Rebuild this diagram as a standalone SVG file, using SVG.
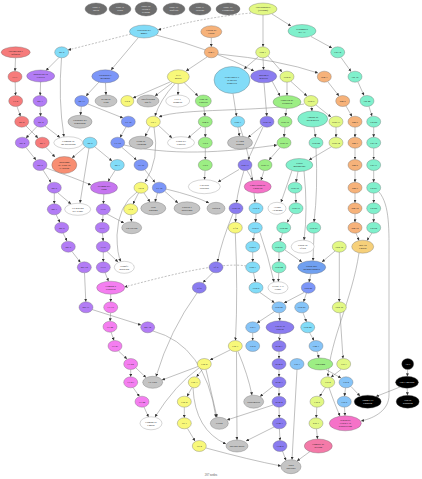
<svg xmlns="http://www.w3.org/2000/svg" width="422" height="479" viewBox="0 0 422 479">
<defs>
<marker id="ah" markerWidth="3" markerHeight="3" refX="3" refY="1.5" orient="auto" markerUnits="userSpaceOnUse"><path d="M0,0L3,1.5L0,3z" fill="#333"/></marker>
<style>
.e{fill:none;stroke:#808080;stroke-width:.5;marker-end:url(#ah)}
.d{stroke-dasharray:2,1.5}
ellipse{stroke:#666;stroke-width:.35}
text{font-family:"Liberation Serif",serif;font-size:2.7px;text-anchor:middle;fill:#222}
.dk ellipse{fill:#6e6e6e}.dk text{fill:#eee}
.cy ellipse{fill:#82dcf8}.sa ellipse{fill:#f67b7b}.pu ellipse{fill:#b27cf5}.bl ellipse{fill:#7c96f8}
.sl ellipse{fill:#8a7cf0}.ye ellipse{fill:#f8f87a}.gn ellipse{fill:#9cee84}.aq ellipse{fill:#80f0cc}
.or ellipse{fill:#f6b27a}.yg ellipse{fill:#e2f884}.gy ellipse{fill:#c4c4c4}.wh ellipse{fill:#fff;stroke:#888}
.vi ellipse{fill:#f47ef0}.mo ellipse{fill:#c676f0}.hp ellipse{fill:#f572c8}.co ellipse{fill:#f88e72}
.ls ellipse{fill:#86c4f8}.gd ellipse{fill:#f6d07a}.bk ellipse{fill:#000}.bk text{fill:#fff}
.sb ellipse{fill:#70a0f0}.rs ellipse{fill:#f47aa8}
</style>
</defs>
<rect width="422" height="479" fill="#fff"/>
<g id="edges">
<path class="e d" d="M251,13 Q200,18 158,30"/>
<path class="e" d="M263,15 L263,46.8"/>
<path class="e" d="M272,14 L291,26"/>
<path class="e d" d="M131,34 L68,50"/>
<path class="e" d="M138,38 L111,70"/>
<path class="e" d="M156,35 Q215,50 254,71"/>
<path class="e" d="M211.3,37.7 L211.3,46.8"/>
<path class="e" d="M207,57 L186,71"/>
<path class="e" d="M218,54 Q280,60 318,73"/>
<path class="e" d="M258,57 L244,69"/>
<path class="e" d="M263,57.8 L263.6,69.8"/>
<path class="e" d="M268,56 L282,72"/>
<path class="e" d="M311,36.5 L332,48"/>
<path class="e" d="M341,57.5 L351,71.5"/>
<path class="e" d="M358,82 L364,95.5"/>
<path class="e" d="M369,106.5 L372,116.2"/>
<path class="e" d="M373.7,127.2 L373.7,137.2"/>
<path class="e" d="M373.7,148.2 L373.7,159.5"/>
<path class="e" d="M373.7,170.5 L373.7,182.2"/>
<path class="e" d="M373.7,193.2 L373.7,202.8"/>
<path class="e" d="M373.7,213.8 L373.7,222.2"/>
<path class="e" d="M372,233 L367,240.5"/>
<path class="e" d="M328,82 L339,96"/>
<path class="e" d="M346,106 L352,116.5"/>
<path class="e" d="M355,127.2 L355,137.2"/>
<path class="e" d="M355,148.2 L355,159.5"/>
<path class="e" d="M355,170.5 L355,182.2"/>
<path class="e" d="M355,193.2 L355,202.8"/>
<path class="e" d="M355,213.8 L355,222.2"/>
<path class="e" d="M356,233.2 L359,240.5"/>
<path class="e" d="M379,192 C390,205 389,230 389,260 L389,395 C389,410 375,418 361,421"/>
<path class="e" d="M291,81.5 L307,96"/>
<path class="e" d="M287,82.2 L287,95.5"/>
<path class="e" d="M311.5,106.5 L312,111"/>
<path class="e" d="M316,105 L331,117"/>
<path class="e" d="M336,127.2 L336,137.2"/>
<path class="e" d="M331,147 L309,160"/>
<path class="e" d="M314,127 L315.5,137.2"/>
<path class="e" d="M316,148.2 Q318,190 314,222"/>
<path class="e" d="M286.5,108.5 L285.5,116.2"/>
<path class="e" d="M285,127.2 L284,137.2"/>
<path class="e" d="M280,147.5 L269,160"/>
<path class="e" d="M298,171.5 L296,182.2"/>
<path class="e" d="M295.5,193.2 L296,202.8"/>
<path class="e" d="M293,213.5 L287,222.5"/>
<path class="e" d="M304,171 Q308,210 304,240.2"/>
<path class="e" d="M292,170.5 L281,202.3"/>
<path class="e" d="M15.5,57.8 L15,71.2"/>
<path class="e" d="M15.2,82.2 L15.5,95.5"/>
<path class="e" d="M17,106.5 L20.5,116.2"/>
<path class="e" d="M26,126 L38,138"/>
<path class="e" d="M46,147.5 L55,157"/>
<path class="e" d="M40.6,82 L40.2,95.5"/>
<path class="e" d="M40.2,106.5 L40.6,116.2"/>
<path class="e" d="M37,126.5 L26,138"/>
<path class="e" d="M26,147.5 L36,160"/>
<path class="e" d="M45,126 L60,137.5"/>
<path class="e" d="M59,57.5 L46,70.5"/>
<path class="e" d="M61.5,57.8 Q58,100 64,136.7"/>
<path class="e" d="M99,82 L86,96"/>
<path class="e" d="M105.5,82.8 L106,95"/>
<path class="e" d="M81.3,106.5 L80.5,115.2"/>
<path class="e" d="M88,104 L123,118"/>
<path class="e" d="M170,82 L133,98"/>
<path class="e" d="M172,83 L155,96"/>
<path class="e" d="M178.2,83.7 L178,95"/>
<path class="e" d="M184,82.5 L198,96"/>
<path class="e" d="M126,127 L120,137.5"/>
<path class="e" d="M122,147.5 L136.5,160"/>
<path class="e" d="M85,147 L72,158"/>
<path class="e" d="M95,147 L112,161"/>
<path class="e" d="M89,148 L80,203"/>
<path class="e" d="M43,170 L51,182.5"/>
<path class="e" d="M46,168 Q75,178 91,185"/>
<path class="e" d="M58,193 L71,204"/>
<path class="e" d="M54.3,193.2 L54.3,203.8"/>
<path class="e" d="M56,214.5 L60,222.5"/>
<path class="e" d="M63,233 L67,241"/>
<path class="e" d="M72,251.5 L80.5,262.5"/>
<path class="e" d="M84.5,272.8 L85.8,301.8"/>
<path class="e" d="M92,309.5 L141,325"/>
<path class="e" d="M115,170.5 L108,181.5"/>
<path class="e" d="M103.8,194.2 L103.4,203.8"/>
<path class="e" d="M138.5,193 L133,204"/>
<path class="e" d="M131,214.8 L131.5,221.7"/>
<path class="e" d="M103,214.8 L102.5,222.2"/>
<path class="e" d="M107,214 L124,223"/>
<path class="e" d="M137,192 Q118,205 117,235 Q117,255 121,261.5"/>
<path class="e" d="M102.5,233.2 L103.2,241.2"/>
<path class="e" d="M103.3,252.2 L103.3,261.8"/>
<path class="e" d="M107,251.5 L118,262"/>
<path class="e" d="M105,272.5 L108.5,281.3"/>
<path class="e" d="M110.7,294.2 L110.7,301.8"/>
<path class="e" d="M110.6,312.8 L110.1,321.2"/>
<path class="e" d="M111,332 L114,340.5"/>
<path class="e" d="M118.5,351 L127,359"/>
<path class="e" d="M130.7,369.5 L130.7,376.8"/>
<path class="e" d="M133,387.5 L139.5,396.5"/>
<path class="e" d="M136,368 L146,377.5"/>
<path class="e" d="M144,407 L148.5,417"/>
<path class="e d" d="M246,266 C225,262 180,272 124.5,287"/>
<path class="e" d="M175,83.5 Q160,100 155,116"/>
<path class="e" d="M150,127 L145,136.5"/>
<path class="e" d="M154,127 Q160,160 145,182"/>
<path class="e" d="M203.8,107 L205,116.2"/>
<path class="e" d="M205.3,127.2 L205.3,137.2"/>
<path class="e" d="M205.3,148.2 L205.3,159.5"/>
<path class="e" d="M205,170.5 L204.5,179.7"/>
<path class="e" d="M201,127 L188,138"/>
<path class="e" d="M158,125 L172,138"/>
<path class="e" d="M238,127.2 L239.5,136.2"/>
<path class="e" d="M262,126 L248,137.5"/>
<path class="e" d="M233,93.5 L236.5,116.2"/>
<path class="e" d="M264,82.8 L266.8,116.2"/>
<path class="e" d="M272,81 L280,96"/>
<path class="e" d="M263,127 L248,159.8"/>
<path class="e" d="M247,170.5 L253,180.5"/>
<path class="e" d="M264,170.5 L261,180.3"/>
<path class="e" d="M244,170.5 Q238,190 236.5,202.8"/>
<path class="e" d="M239,169.5 L218,182"/>
<path class="e" d="M145,170 L155,182.5"/>
<path class="e" d="M157.5,193 L155,202"/>
<path class="e" d="M144,193 L150,202"/>
<path class="e" d="M165,191.5 L178,203"/>
<path class="e" d="M166,189 Q195,196 209,203"/>
<path class="e" d="M236,213.8 L235.5,222.2"/>
<path class="e" d="M256,213.8 L255.5,222.2"/>
<path class="e" d="M240,127 Q252,160 255,202.5"/>
<path class="e" d="M254.5,233.2 L253,241.2"/>
<path class="e" d="M252.7,252.2 L252.7,261.8"/>
<path class="e" d="M253.5,272.8 L255.5,282.2"/>
<path class="e" d="M235.3,233.2 Q238,290 235.5,340.5"/>
<path class="e" d="M213,272.5 L203,282.5"/>
<path class="e" d="M233,213.5 Q222,240 217.5,261.8"/>
<path class="e" d="M197,293 Q170,330 156,376.5"/>
<path class="e" d="M153,331 Q205,345 216,417.3"/>
<path class="e" d="M279,252.2 L279,261.8"/>
<path class="e" d="M278.8,272.8 L278.3,281.7"/>
<path class="e" d="M285,250 L302,262"/>
<path class="e" d="M282.5,233.2 L280,241.2"/>
<path class="e" d="M314,233.2 L313,260.8"/>
<path class="e" d="M335,251 L322,262"/>
<path class="e" d="M339.3,252.2 L339.3,301.8"/>
<path class="e" d="M311,273.8 L309,282.2"/>
<path class="e" d="M304,292.5 L284,303"/>
<path class="e" d="M306.5,293 L303.5,301.8"/>
<path class="e" d="M274.5,311.5 L257,323"/>
<path class="e" d="M279.2,312.8 L279.8,320.8"/>
<path class="e" d="M303,312.8 L306.5,321.8"/>
<path class="e" d="M309.5,332.5 L314,340.6"/>
<path class="e" d="M252.7,332.8 L252.7,340.5"/>
<path class="e" d="M280,333.8 L279.3,340.5"/>
<path class="e" d="M260,292.5 L274.5,302.8"/>
<path class="e" d="M260,232.5 Q268,255 274,282"/>
<path class="e" d="M317,351.5 L319,358"/>
<path class="e" d="M340,312.8 L343,358.5"/>
<path class="e" d="M359,253 C352,300 330,340 328,376.5"/>
<path class="e" d="M341,369.5 L331,377.2"/>
<path class="e" d="M326,369.5 L341,378"/>
<path class="e" d="M345.5,387.8 L344.5,396.2"/>
<path class="e" d="M351,386.5 L360,396"/>
<path class="e" d="M407.7,369.5 L407.3,376.3"/>
<path class="e" d="M407.2,388.3 L407.5,395.2"/>
<path class="e" d="M400,387 L376,396.5"/>
<path class="e" d="M325.5,387.5 L319.5,396.5"/>
<path class="e" d="M329,387.7 Q335,405 340,416"/>
<path class="e" d="M344.5,407.2 L345,415.8"/>
<path class="e" d="M316.8,407.2 L316.2,417.8"/>
<path class="e" d="M316.5,428.8 L317.5,439"/>
<path class="e" d="M310,451.5 L297,461"/>
<path class="e" d="M297,369.5 L292,459.7"/>
<path class="e" d="M282.5,451 L286,460.5"/>
<path class="e" d="M279,351.5 L279,358.5"/>
<path class="e" d="M279,369.5 L279,376.8"/>
<path class="e" d="M279,387.8 L279,396.2"/>
<path class="e" d="M279,407.2 L279.3,417.8"/>
<path class="e" d="M279.4,428.8 L280,440.5"/>
<path class="e" d="M273,405 L227,420"/>
<path class="e" d="M273.5,386 L260,396.5"/>
<path class="e" d="M274,427 L246,441"/>
<path class="e" d="M230,350 L210,360"/>
<path class="e" d="M238,351.5 Q248,375 252,395.2"/>
<path class="e" d="M202.3,369.5 L196.5,376.8"/>
<path class="e" d="M198,366.5 L162,380"/>
<path class="e" d="M206,369.5 L217,417.3"/>
<path class="e" d="M192,387.5 L187,396.5"/>
<path class="e" d="M193,388 Q195,430 226,444"/>
<path class="e" d="M184.3,407.2 L184.3,417.8"/>
<path class="e" d="M187.5,428.5 L195,441"/>
<path class="e" d="M206,448 Q250,460 281,466"/>
<path class="e" d="M236.5,351.5 L237,440"/>
<path class="e" d="M199,368 Q175,385 155,417"/>
<path class="e" d="M304,104 C260,112 180,108 159,117"/>
<path class="e" d="M124,145 C180,158 240,150 277,145"/>
</g>
<g id="n1" class="dk"><ellipse cx="96" cy="9" rx="11" ry="6"/><text x="96" y="8.4">Parte I</text><text x="96" y="11.4">inicio</text></g>
<g id="n2" class="dk"><ellipse cx="120" cy="9" rx="11" ry="6"/><text x="120" y="8.4">Parte II</text><text x="120" y="11.4">reino</text></g>
<g id="n3" class="dk"><ellipse cx="146" cy="9" rx="11" ry="7"/><text x="146" y="7">Parte III</text><text x="146" y="10">exilio y</text><text x="146" y="13">retorno</text></g>
<g id="n4" class="dk"><ellipse cx="174" cy="9" rx="11" ry="6"/><text x="174" y="8.4">Parte IV</text><text x="174" y="11.4">profetas</text></g>
<g id="n5" class="dk"><ellipse cx="200" cy="9" rx="11" ry="6"/><text x="200" y="8.4">Parte V</text><text x="200" y="11.4">escritos</text></g>
<g id="n6" class="dk"><ellipse cx="228" cy="9" rx="12" ry="6"/><text x="228" y="8.4">Parte VI</text><text x="228" y="11.4">evangelios</text></g>
<g id="n7" class="yg"><ellipse cx="263" cy="9" rx="14" ry="6"/><text x="263" y="8.4">Los apóstoles</text><text x="263" y="11.4">(Hechos)</text></g>
<g id="c1" class="cy"><ellipse cx="144" cy="31.5" rx="14.5" ry="6.5"/><text x="144" y="30.9">Discurso del</text><text x="144" y="33.9">monte</text></g>
<g id="o1" class="or"><ellipse cx="211.3" cy="31.7" rx="10.5" ry="6"/><text x="211.3" y="31.1">Cartas de</text><text x="211.3" y="34.1">Pablo</text></g>
<g id="a1" class="aq"><ellipse cx="302" cy="31" rx="14" ry="6.5"/><text x="302" y="30.4">Personajes</text><text x="302" y="33.4">del AT</text></g>
<g id="s1" class="sa"><ellipse cx="15.7" cy="52.3" rx="14.5" ry="5.5"/><text x="15.7" y="51.7">Nacimiento y</text><text x="15.7" y="54.7">infancia</text></g>
<g id="c2" class="cy"><ellipse cx="61.7" cy="52.3" rx="7" ry="5.5"/><text x="61.7" y="53.3">Mt 5</text></g>
<g id="o2" class="or"><ellipse cx="211.3" cy="52.3" rx="7" ry="5.5"/><text x="211.3" y="53.3">Rm 1</text></g>
<g id="yg2" class="yg"><ellipse cx="262.7" cy="52.3" rx="7" ry="5.5"/><text x="262.7" y="53.3">Hch 1</text></g>
<g id="a2" class="aq"><ellipse cx="337.7" cy="52.3" rx="7" ry="5.5"/><text x="337.7" y="53.3">Gn 12</text></g>
<g id="s2" class="sa"><ellipse cx="15" cy="76.7" rx="7" ry="5.5"/><text x="15" y="77.7">Lc 1</text></g>
<g id="p1" class="pu"><ellipse cx="40.7" cy="76" rx="14" ry="6"/><text x="40.7" y="75.4">Ministerio en</text><text x="40.7" y="78.4">Galilea</text></g>
<g id="b1" class="bl"><ellipse cx="105.3" cy="76.3" rx="13.5" ry="6.5"/><text x="105.3" y="75.7">Parábolas y</text><text x="105.3" y="78.7">milagros</text></g>
<g id="y1" class="ye"><ellipse cx="178.3" cy="76.7" rx="11" ry="7"/><text x="178.3" y="76.1">Fe y</text><text x="178.3" y="79.1">gracia</text></g>
<g id="c3" class="cy"><ellipse cx="232" cy="80" rx="18" ry="13.5"/><text x="232" y="77.9">Pentecostés y</text><text x="232" y="80.9">la iglesia</text><text x="232" y="83.9">primitiva</text></g>
<g id="sl1" class="sl"><ellipse cx="263.7" cy="76.3" rx="13" ry="6.5"/><text x="263.7" y="75.7">Misión a</text><text x="263.7" y="78.7">gentiles</text></g>
<g id="yg3" class="yg"><ellipse cx="287" cy="76.7" rx="7" ry="5.5"/><text x="287" y="77.7">Hch 2</text></g>
<g id="o3" class="or"><ellipse cx="324.3" cy="76.7" rx="7" ry="5.5"/><text x="324.3" y="77.7">Rm 3</text></g>
<g id="a3" class="aq"><ellipse cx="355" cy="76.7" rx="7" ry="5.5"/><text x="355" y="77.7">Gn 15</text></g>
<g id="s3" class="sa"><ellipse cx="15.7" cy="101" rx="7" ry="5.5"/><text x="15.7" y="102">Lc 2</text></g>
<g id="p2" class="pu"><ellipse cx="40" cy="101" rx="7" ry="5.5"/><text x="40" y="102">Mc 1</text></g>
<g id="b2" class="bl"><ellipse cx="81.7" cy="101" rx="7" ry="5.5"/><text x="81.7" y="102">Mt 13</text></g>
<g id="g1" class="gy"><ellipse cx="106" cy="101" rx="11" ry="6"/><text x="106" y="100.4">Reino de</text><text x="106" y="103.4">Dios</text></g>
<g id="y2" class="ye"><ellipse cx="127.3" cy="101" rx="6.5" ry="5.5"/><text x="127.3" y="102">Ga 2</text></g>
<g id="g2" class="gy"><ellipse cx="148" cy="101" rx="11" ry="6"/><text x="148" y="100.4">Justificación</text><text x="148" y="103.4">por fe</text></g>
<g id="w1" class="wh"><ellipse cx="177.7" cy="101" rx="12" ry="6"/><text x="177.7" y="100.4">Ley y</text><text x="177.7" y="103.4">promesa</text></g>
<g id="gr1" class="gn"><ellipse cx="203.3" cy="101" rx="8" ry="6"/><text x="203.3" y="100.4">Vida en</text><text x="203.3" y="103.4">Espíritu</text></g>
<g id="gr2" class="gn"><ellipse cx="287" cy="102" rx="14" ry="6.5"/><text x="287" y="101.4">Concilio de</text><text x="287" y="104.4">Jerusalén</text></g>
<g id="yg4" class="yg"><ellipse cx="311" cy="101" rx="7" ry="5.5"/><text x="311" y="102">Hch 9</text></g>
<g id="o4" class="or"><ellipse cx="342.7" cy="101" rx="7" ry="5.5"/><text x="342.7" y="102">Rm 5</text></g>
<g id="a4" class="aq"><ellipse cx="367" cy="101" rx="7" ry="5.5"/><text x="367" y="102">Gn 22</text></g>
<g id="s4" class="sa"><ellipse cx="21.7" cy="121.7" rx="7" ry="5.5"/><text x="21.7" y="122.7">Mt 2</text></g>
<g id="p3" class="pu"><ellipse cx="40.7" cy="121.7" rx="7" ry="5.5"/><text x="40.7" y="122.7">Mc 2</text></g>
<g id="g3" class="gy"><ellipse cx="80" cy="121.7" rx="12" ry="6.5"/><text x="80" y="121.1">Parábola del</text><text x="80" y="124.1">sembrador</text></g>
<g id="b3" class="bl"><ellipse cx="128.3" cy="121.7" rx="7" ry="5.5"/><text x="128.3" y="122.7">Lc 15</text></g>
<g id="y3" class="ye"><ellipse cx="153.3" cy="121.7" rx="7" ry="5.5"/><text x="153.3" y="122.7">Ga 3</text></g>
<g id="gr3" class="gn"><ellipse cx="205.3" cy="121.7" rx="7" ry="5.5"/><text x="205.3" y="122.7">Rm 8</text></g>
<g id="c4" class="cy"><ellipse cx="237.7" cy="121.7" rx="7" ry="5.5"/><text x="237.7" y="122.7">Hch 3</text></g>
<g id="sl2" class="sl"><ellipse cx="267" cy="121.7" rx="7" ry="5.5"/><text x="267" y="122.7">Hch 10</text></g>
<g id="gr4" class="gn"><ellipse cx="285" cy="121.7" rx="7" ry="5.5"/><text x="285" y="122.7">Hch 15</text></g>
<g id="a5" class="aq"><ellipse cx="312.7" cy="119" rx="15" ry="8"/><text x="312.7" y="118.4">Apóstol de</text><text x="312.7" y="121.4">los gentiles</text></g>
<g id="yg5" class="yg"><ellipse cx="336" cy="121.7" rx="7" ry="5.5"/><text x="336" y="122.7">Hch 13</text></g>
<g id="o5" class="or"><ellipse cx="355" cy="121.7" rx="7" ry="5.5"/><text x="355" y="122.7">Rm 6</text></g>
<g id="a6" class="aq"><ellipse cx="373.7" cy="121.7" rx="7" ry="5.5"/><text x="373.7" y="122.7">Gn 28</text></g>
<g id="p4" class="pu"><ellipse cx="22.3" cy="142.7" rx="7" ry="5.5"/><text x="22.3" y="143.7">Mc 4</text></g>
<g id="s5" class="sa"><ellipse cx="42.3" cy="142.7" rx="7" ry="5.5"/><text x="42.3" y="143.7">Mt 3</text></g>
<g id="w2" class="wh"><ellipse cx="68.3" cy="142.7" rx="14.5" ry="6"/><text x="68.3" y="142.1">Llamado de</text><text x="68.3" y="145.1">los discípulos</text></g>
<g id="c5" class="cy"><ellipse cx="90" cy="142.7" rx="7" ry="5.5"/><text x="90" y="143.7">Mt 6</text></g>
<g id="b4" class="bl"><ellipse cx="117.7" cy="142.7" rx="7" ry="5.5"/><text x="117.7" y="143.7">Lc 10</text></g>
<g id="g4" class="gy"><ellipse cx="141" cy="142.7" rx="12" ry="6.5"/><text x="141" y="142.1">Hijos de</text><text x="141" y="145.1">Abraham</text></g>
<g id="w3" class="wh"><ellipse cx="181" cy="142.7" rx="13.5" ry="6"/><text x="181" y="142.1">Fruto del</text><text x="181" y="145.1">Espíritu</text></g>
<g id="gr6" class="gn"><ellipse cx="205.3" cy="142.7" rx="7" ry="5.5"/><text x="205.3" y="143.7">Ga 5</text></g>
<g id="g5" class="gy"><ellipse cx="240" cy="142.7" rx="12.5" ry="6.5"/><text x="240" y="142.1">El cojo</text><text x="240" y="145.1">sanado</text></g>
<g id="gr5" class="gn"><ellipse cx="284" cy="142.7" rx="7" ry="5.5"/><text x="284" y="143.7">Hch 16</text></g>
<g id="a7" class="aq"><ellipse cx="316" cy="142.7" rx="7" ry="5.5"/><text x="316" y="143.7">Hch 22</text></g>
<g id="yg6" class="yg"><ellipse cx="336" cy="142.7" rx="7" ry="5.5"/><text x="336" y="143.7">Hch 14</text></g>
<g id="o6" class="or"><ellipse cx="355" cy="142.7" rx="7" ry="5.5"/><text x="355" y="143.7">Rm 7</text></g>
<g id="a8" class="aq"><ellipse cx="373.7" cy="142.7" rx="7" ry="5.5"/><text x="373.7" y="143.7">Gn 32</text></g>
<g id="p5" class="pu"><ellipse cx="40" cy="165" rx="7" ry="5.5"/><text x="40" y="166">Mc 5</text></g>
<g id="co1" class="co"><ellipse cx="64.3" cy="165" rx="12.5" ry="8.5"/><text x="64.3" y="163">Bautismo</text><text x="64.3" y="166">de Jesús en</text><text x="64.3" y="169">el Jordán</text></g>
<g id="c6" class="cy"><ellipse cx="117.3" cy="165" rx="7" ry="5.5"/><text x="117.3" y="166">Mt 7</text></g>
<g id="b5" class="bl"><ellipse cx="141" cy="165" rx="7" ry="5.5"/><text x="141" y="166">Lc 16</text></g>
<g id="gr7" class="gn"><ellipse cx="205.3" cy="165" rx="7" ry="5.5"/><text x="205.3" y="166">Ga 6</text></g>
<g id="sl3" class="sl"><ellipse cx="245" cy="165" rx="7" ry="5.5"/><text x="245" y="166">Hch 11</text></g>
<g id="gr8" class="gn"><ellipse cx="265" cy="165" rx="7" ry="5.5"/><text x="265" y="166">Hch 17</text></g>
<g id="a9" class="aq"><ellipse cx="299.3" cy="165" rx="13.5" ry="6.5"/><text x="299.3" y="164.4">Viajes</text><text x="299.3" y="167.4">misioneros</text></g>
<g id="o7" class="or"><ellipse cx="355" cy="165" rx="7" ry="5.5"/><text x="355" y="166">Rm 8</text></g>
<g id="a10" class="aq"><ellipse cx="373.7" cy="165" rx="7" ry="5.5"/><text x="373.7" y="166">Gn 37</text></g>
<g id="p6" class="pu"><ellipse cx="54.3" cy="187.7" rx="7" ry="5.5"/><text x="54.3" y="188.7">Mc 6</text></g>
<g id="v1" class="mo"><ellipse cx="104" cy="187.7" rx="13.5" ry="6.5"/><text x="104" y="187.1">Sermón del</text><text x="104" y="190.1">llano</text></g>
<g id="y4" class="ye"><ellipse cx="141" cy="187.7" rx="7" ry="5.5"/><text x="141" y="188.7">Ga 4</text></g>
<g id="b6" class="bl"><ellipse cx="159.3" cy="187.7" rx="7" ry="5.5"/><text x="159.3" y="188.7">Lc 18</text></g>
<g id="w4" class="wh"><ellipse cx="204.3" cy="186.7" rx="16" ry="7"/><text x="204.3" y="186.1">Libertad</text><text x="204.3" y="189.1">cristiana</text></g>
<g id="hp1" class="hp"><ellipse cx="257.7" cy="186.7" rx="13.5" ry="6.5"/><text x="257.7" y="186.1">Conversión de</text><text x="257.7" y="189.1">Cornelio</text></g>
<g id="a11" class="aq"><ellipse cx="295" cy="187.7" rx="7" ry="5.5"/><text x="295" y="188.7">Hch 18</text></g>
<g id="o8" class="or"><ellipse cx="355" cy="187.7" rx="7" ry="5.5"/><text x="355" y="188.7">Rm 9</text></g>
<g id="a12" class="aq"><ellipse cx="373.7" cy="187.7" rx="7" ry="5.5"/><text x="373.7" y="188.7">Gn 41</text></g>
<g id="p7" class="pu"><ellipse cx="54.3" cy="209.3" rx="7" ry="5.5"/><text x="54.3" y="210.3">Mc 7</text></g>
<g id="w5" class="wh"><ellipse cx="77.7" cy="209.3" rx="13" ry="6"/><text x="77.7" y="208.7">La oración</text><text x="77.7" y="211.7">del Señor</text></g>
<g id="p8" class="pu"><ellipse cx="103.3" cy="209.3" rx="7" ry="5.5"/><text x="103.3" y="210.3">Lc 6</text></g>
<g id="y5" class="ye"><ellipse cx="130.7" cy="209.3" rx="7" ry="5.5"/><text x="130.7" y="210.3">Ef 2</text></g>
<g id="g6" class="gy"><ellipse cx="153.3" cy="208.3" rx="12.5" ry="6.5"/><text x="153.3" y="207.7">Hijo</text><text x="153.3" y="210.7">pródigo</text></g>
<g id="g7" class="gy"><ellipse cx="187" cy="208.3" rx="13" ry="6.5"/><text x="187" y="207.7">Fariseo y</text><text x="187" y="210.7">publicano</text></g>
<g id="g8" class="gy"><ellipse cx="216" cy="208.3" rx="9" ry="6"/><text x="216" y="209.3">Zaqueo</text></g>
<g id="sl4" class="sl"><ellipse cx="236" cy="208.3" rx="7" ry="5.5"/><text x="236" y="209.3">Hch 12</text></g>
<g id="c7" class="cy"><ellipse cx="256" cy="208.3" rx="7" ry="5.5"/><text x="256" y="209.3">Hch 4</text></g>
<g id="w6" class="wh"><ellipse cx="277" cy="208.3" rx="9" ry="6"/><text x="277" y="207.7">Atenas</text><text x="277" y="210.7">Areópago</text></g>
<g id="a13" class="aq"><ellipse cx="296" cy="208.3" rx="7" ry="5.5"/><text x="296" y="209.3">Hch 19</text></g>
<g id="o9" class="or"><ellipse cx="355" cy="208.3" rx="7" ry="5.5"/><text x="355" y="209.3">Rm 10</text></g>
<g id="a14" class="aq"><ellipse cx="373.7" cy="208.3" rx="7" ry="5.5"/><text x="373.7" y="209.3">Gn 45</text></g>
<g id="p8b" class="pu"><ellipse cx="61.7" cy="227.7" rx="7" ry="5.5"/><text x="61.7" y="228.7">Mc 8</text></g>
<g id="p9" class="pu"><ellipse cx="102.3" cy="227.7" rx="7" ry="5.5"/><text x="102.3" y="228.7">Lc 7</text></g>
<g id="g9" class="gy"><ellipse cx="131.7" cy="227.7" rx="10" ry="6"/><text x="131.7" y="228.7">Un cuerpo</text></g>
<g id="y6" class="ye"><ellipse cx="235.3" cy="227.7" rx="7" ry="5.5"/><text x="235.3" y="228.7">Ef 4</text></g>
<g id="c8" class="cy"><ellipse cx="255.3" cy="227.7" rx="7" ry="5.5"/><text x="255.3" y="228.7">Hch 5</text></g>
<g id="a15" class="aq"><ellipse cx="283.7" cy="227.7" rx="7" ry="5.5"/><text x="283.7" y="228.7">Hch 20</text></g>
<g id="a16" class="aq"><ellipse cx="313.7" cy="227.7" rx="7" ry="5.5"/><text x="313.7" y="228.7">Hch 23</text></g>
<g id="o10" class="or"><ellipse cx="355" cy="227.7" rx="7" ry="5.5"/><text x="355" y="228.7">Rm 12</text></g>
<g id="a17" class="aq"><ellipse cx="373.7" cy="227.7" rx="7" ry="5.5"/><text x="373.7" y="228.7">Gn 50</text></g>
<g id="p10" class="pu"><ellipse cx="68.3" cy="246.7" rx="7" ry="5.5"/><text x="68.3" y="247.7">Mc 9</text></g>
<g id="p11" class="pu"><ellipse cx="103.3" cy="246.7" rx="7" ry="5.5"/><text x="103.3" y="247.7">Lc 8</text></g>
<g id="c9" class="cy"><ellipse cx="252.7" cy="246.7" rx="7" ry="5.5"/><text x="252.7" y="247.7">Hch 6</text></g>
<g id="a18" class="aq"><ellipse cx="279" cy="246.7" rx="7" ry="5.5"/><text x="279" y="247.7">Hch 21</text></g>
<g id="w7" class="wh"><ellipse cx="302.7" cy="246.7" rx="11.5" ry="6.5"/><text x="302.7" y="246.1">Pablo en</text><text x="302.7" y="249.1">Éfeso</text></g>
<g id="yg7" class="yg"><ellipse cx="339.3" cy="246.7" rx="7" ry="5.5"/><text x="339.3" y="247.7">Hch 15</text></g>
<g id="gd1" class="gd"><ellipse cx="362.7" cy="246.7" rx="11" ry="6.5"/><text x="362.7" y="246.1">José en</text><text x="362.7" y="249.1">Egipto</text></g>
<g id="p12" class="pu"><ellipse cx="84.3" cy="267.3" rx="7" ry="5.5"/><text x="84.3" y="268.3">Mc 10</text></g>
<g id="p13" class="pu"><ellipse cx="103.3" cy="267.3" rx="7" ry="5.5"/><text x="103.3" y="268.3">Lc 9</text></g>
<g id="w8" class="wh"><ellipse cx="124.3" cy="267.3" rx="10" ry="6"/><text x="124.3" y="266.7">Transfi-</text><text x="124.3" y="269.7">guración</text></g>
<g id="sl5" class="sl"><ellipse cx="216" cy="267.3" rx="7" ry="5.5"/><text x="216" y="268.3">Ef 5</text></g>
<g id="c10" class="cy"><ellipse cx="252.7" cy="267.3" rx="7" ry="5.5"/><text x="252.7" y="268.3">Hch 7</text></g>
<g id="a19" class="aq"><ellipse cx="279" cy="267.3" rx="7" ry="5.5"/><text x="279" y="268.3">Hch 24</text></g>
<g id="b7" class="sb"><ellipse cx="311.7" cy="267.3" rx="14" ry="6.5"/><text x="311.7" y="266.7">Pablo ante</text><text x="311.7" y="269.7">los gobernantes</text></g>
<g id="v2" class="vi"><ellipse cx="110.7" cy="287.7" rx="14" ry="6.5"/><text x="110.7" y="287.1">Camino a</text><text x="110.7" y="290.1">Jerusalén</text></g>
<g id="sl6" class="sl"><ellipse cx="199.3" cy="287.7" rx="7" ry="5.5"/><text x="199.3" y="288.7">Ef 6</text></g>
<g id="c11" class="cy"><ellipse cx="256" cy="287.7" rx="7" ry="5.5"/><text x="256" y="288.7">Hch 8</text></g>
<g id="w9" class="wh"><ellipse cx="278" cy="287.7" rx="10" ry="6"/><text x="278" y="287.1">Felipe y el</text><text x="278" y="290.1">etíope</text></g>
<g id="b8" class="bl"><ellipse cx="308.3" cy="287.7" rx="7" ry="5.5"/><text x="308.3" y="288.7">Hch 25</text></g>
<g id="p14" class="pu"><ellipse cx="86" cy="307.3" rx="7" ry="5.5"/><text x="86" y="308.3">Mc 11</text></g>
<g id="pk1" class="vi"><ellipse cx="110.7" cy="307.3" rx="7" ry="5.5"/><text x="110.7" y="308.3">Lc 19</text></g>
<g id="ls1" class="ls"><ellipse cx="279" cy="307.3" rx="7" ry="5.5"/><text x="279" y="308.3">Hch 26</text></g>
<g id="ls2" class="ls"><ellipse cx="301.7" cy="307.3" rx="7" ry="5.5"/><text x="301.7" y="308.3">Hch 27</text></g>
<g id="yg8" class="yg"><ellipse cx="339.3" cy="307.3" rx="7" ry="5.5"/><text x="339.3" y="308.3">Hch 16</text></g>
<g id="pk2" class="vi"><ellipse cx="110" cy="326.7" rx="7" ry="5.5"/><text x="110" y="327.7">Lc 20</text></g>
<g id="p15" class="pu"><ellipse cx="147.7" cy="327.3" rx="7" ry="5.5"/><text x="147.7" y="328.3">Mc 12</text></g>
<g id="ls3" class="ls"><ellipse cx="252.7" cy="327.3" rx="7" ry="5.5"/><text x="252.7" y="328.3">Flp 1</text></g>
<g id="sl7" class="sl"><ellipse cx="280" cy="327.3" rx="14" ry="6.5"/><text x="280" y="326.7">Fin de la</text><text x="280" y="329.7">carrera</text></g>
<g id="c12" class="cy"><ellipse cx="307.7" cy="327.3" rx="7" ry="5.5"/><text x="307.7" y="328.3">Hch 28</text></g>
<g id="pk3" class="vi"><ellipse cx="115" cy="346" rx="7" ry="5.5"/><text x="115" y="347">Lc 21</text></g>
<g id="y7" class="ye"><ellipse cx="235.3" cy="346" rx="7" ry="5.5"/><text x="235.3" y="347">Col 1</text></g>
<g id="ls4" class="ls"><ellipse cx="252.7" cy="346" rx="7" ry="5.5"/><text x="252.7" y="347">Flp 2</text></g>
<g id="sl8" class="sl"><ellipse cx="279" cy="346" rx="7" ry="5.5"/><text x="279" y="347">2Tm 1</text></g>
<g id="ls5" class="ls"><ellipse cx="316" cy="346" rx="7" ry="5.5"/><text x="316" y="347">Flm 1</text></g>
<g id="pk4" class="vi"><ellipse cx="130.7" cy="364" rx="7" ry="5.5"/><text x="130.7" y="365">Lc 22</text></g>
<g id="y8" class="ye"><ellipse cx="204.3" cy="364" rx="7" ry="5.5"/><text x="204.3" y="365">Col 2</text></g>
<g id="sl9" class="sl"><ellipse cx="279" cy="364" rx="7" ry="5.5"/><text x="279" y="365">2Tm 2</text></g>
<g id="ls6" class="ls"><ellipse cx="297" cy="364" rx="7" ry="5.5"/><text x="297" y="365">Flp 3</text></g>
<g id="gr9" class="gn"><ellipse cx="320.3" cy="364" rx="12.5" ry="6"/><text x="320.3" y="365">Onésimo</text></g>
<g id="yg9" class="yg"><ellipse cx="343.7" cy="364" rx="7" ry="5.5"/><text x="343.7" y="365">1Ts 1</text></g>
<g id="bk1" class="bk"><ellipse cx="407.7" cy="364" rx="6" ry="5.5"/><text x="407.7" y="365">Ap 1</text></g>
<g id="pk5" class="vi"><ellipse cx="130.7" cy="382.3" rx="7" ry="5.5"/><text x="130.7" y="383.3">Lc 23</text></g>
<g id="g10" class="gy"><ellipse cx="152.7" cy="382.3" rx="10" ry="6"/><text x="152.7" y="383.3">La cena</text></g>
<g id="y9" class="ye"><ellipse cx="194.3" cy="382.3" rx="6" ry="5.5"/><text x="194.3" y="383.3">Col 3</text></g>
<g id="sl10" class="sl"><ellipse cx="279" cy="382.3" rx="7" ry="5.5"/><text x="279" y="383.3">2Tm 3</text></g>
<g id="yg10" class="yg"><ellipse cx="327.7" cy="382.3" rx="7" ry="5.5"/><text x="327.7" y="383.3">1Ts 4</text></g>
<g id="ls7" class="ls"><ellipse cx="346" cy="382.3" rx="7" ry="5.5"/><text x="346" y="383.3">Flp 4</text></g>
<g id="bk2" class="bk"><ellipse cx="407" cy="382.3" rx="11.5" ry="6"/><text x="407" y="383.3">Las 7 iglesias</text></g>
<g id="pk6" class="vi"><ellipse cx="142" cy="401.7" rx="7" ry="5.5"/><text x="142" y="402.7">Lc 24</text></g>
<g id="y10" class="ye"><ellipse cx="184.3" cy="401.7" rx="7" ry="5.5"/><text x="184.3" y="402.7">Col 4</text></g>
<g id="g11" class="gy"><ellipse cx="253.7" cy="401.7" rx="10" ry="6.5"/><text x="253.7" y="402.7">Supremacía</text></g>
<g id="sl11" class="sl"><ellipse cx="279" cy="401.7" rx="7" ry="5.5"/><text x="279" y="402.7">2Tm 4</text></g>
<g id="yg11" class="yg"><ellipse cx="317" cy="401.7" rx="7" ry="5.5"/><text x="317" y="402.7">1Ts 5</text></g>
<g id="ls8" class="ls"><ellipse cx="344.3" cy="401.7" rx="7" ry="5.5"/><text x="344.3" y="402.7">Flp 5</text></g>
<g id="bk3" class="bk"><ellipse cx="367.7" cy="401.7" rx="13.5" ry="6.5"/><text x="367.7" y="401.1">Trono y el</text><text x="367.7" y="404.1">Cordero</text></g>
<g id="bk4" class="bk"><ellipse cx="407.7" cy="401.7" rx="11.5" ry="6.5"/><text x="407.7" y="401.1">Nueva</text><text x="407.7" y="404.1">Jerusalén</text></g>
<g id="w10" class="wh"><ellipse cx="151" cy="423.3" rx="11" ry="6.5"/><text x="151" y="422.7">Camino de</text><text x="151" y="425.7">Emaús</text></g>
<g id="y11" class="ye"><ellipse cx="184.3" cy="423.3" rx="7" ry="5.5"/><text x="184.3" y="424.3">Tit 1</text></g>
<g id="g12" class="gy"><ellipse cx="219.3" cy="423.3" rx="9" ry="6"/><text x="219.3" y="424.3">Cristo</text></g>
<g id="sl12" class="sl"><ellipse cx="279.3" cy="423.3" rx="7" ry="5.5"/><text x="279.3" y="424.3">1Tm 1</text></g>
<g id="yg12" class="yg"><ellipse cx="316" cy="423.3" rx="7" ry="5.5"/><text x="316" y="424.3">2Ts 1</text></g>
<g id="hp2" class="hp"><ellipse cx="345.3" cy="423.3" rx="16" ry="7.5"/><text x="345.3" y="421.3">Venida de</text><text x="345.3" y="424.3">Cristo y la</text><text x="345.3" y="427.3">resurrección</text></g>
<g id="y12" class="ye"><ellipse cx="199.3" cy="446" rx="7" ry="5.5"/><text x="199.3" y="447">Tit 2</text></g>
<g id="g13" class="gy"><ellipse cx="237" cy="446" rx="11" ry="6"/><text x="237" y="447">Buenas obras</text></g>
<g id="sl13" class="sl"><ellipse cx="280" cy="446" rx="7" ry="5.5"/><text x="280" y="447">1Tm 2</text></g>
<g id="hp3" class="rs"><ellipse cx="318.3" cy="446" rx="14" ry="7"/><text x="318.3" y="445.4">Hombre de</text><text x="318.3" y="448.4">pecado</text></g>
<g id="g14" class="gy"><ellipse cx="291" cy="466.7" rx="10" ry="7"/><text x="291" y="466.1">Sana</text><text x="291" y="469.1">doctrina</text></g>
<text x="211" y="475.5" style="font-size:3px;fill:#555">207 nodos</text>
</svg>
